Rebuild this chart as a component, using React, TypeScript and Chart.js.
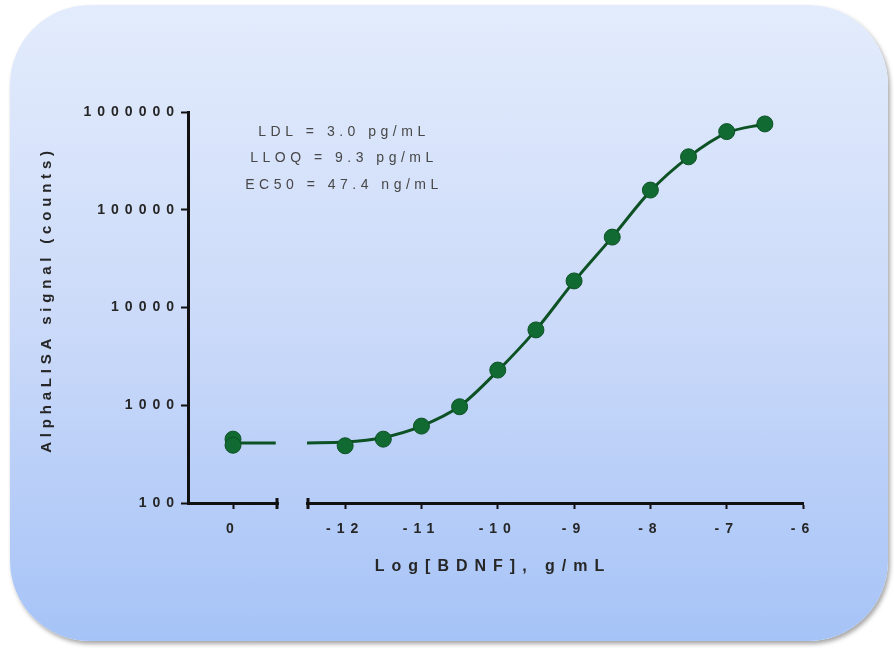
import React, { useEffect, useRef } from 'react';
import { Chart, registerables } from 'chart.js';

Chart.register(...registerables);

// ---- data ----
const zeroDose = [0, 0];
const zeroSignal = [450, 390];
const zeroFitX = [0, 0.95];
const zeroFitY = [410, 410];
const logConc = [-12, -11.5, -11, -10.5, -10, -9.5, -9, -8.5, -8, -7.5, -7, -6.5];
const signal = [385, 450, 612, 965, 2290, 5900, 18700, 52500, 159000, 348000, 630000, 755000];
const fitX = [-12.5, -12, -11.5, -11, -10.5, -10, -9.5, -9, -8.5, -8, -7.5, -7, -6.5];
const fitY = [412, 420, 468, 612, 975, 2250, 5900, 18500, 52500, 155000, 345000, 610000, 755000];
const yTicks = [100, 1000, 10000, 100000, 1000000];
const xTicksZero = [0];
const xTicksMain = [-12, -11, -10, -9, -8, -7, -6];
const annotationLines = ['LDL = 3.0 pg/mL', 'LLOQ = 9.3 pg/mL', 'EC50 = 47.4 ng/mL'];
const xTitle = 'Log[BDNF], g/mL';
const yTitle = 'AlphaLISA signal (counts)';

const FONT = '"Liberation Sans", Arial, sans-serif';
const GREEN_FILL = '#106a32';
const GREEN_LINE = '#0d5224';
const AXIS = '#111111';
const TEXT = '#262626';
const SPACING = '6px';

const toPts = (xs: number[], ys: number[]) => xs.map((x, i) => ({ x, y: ys[i] }));

const decoPlugin = {
  id: 'deco',
  beforeLayout(chart: any) {
    chart.ctx.letterSpacing = SPACING;
  },
  beforeDraw(chart: any) {
    chart.ctx.letterSpacing = SPACING;
  },
  afterDraw(chart: any) {
    const ctx = chart.ctx as CanvasRenderingContext2D;
    const area = chart.chartArea;
    const xa = chart.scales.xa;
    const xb = chart.scales.xb;
    ctx.save();
    // end caps of the broken x axis
    ctx.strokeStyle = AXIS;
    ctx.lineWidth = 3;
    [xa.right - 1, xb.left + 1].forEach((px: number) => {
      ctx.beginPath();
      ctx.moveTo(px, area.bottom - 5);
      ctx.lineTo(px, area.bottom + 6);
      ctx.stroke();
    });
    // annotation
    (ctx as any).letterSpacing = '4.5px';
    ctx.font = `14px ${FONT}`;
    ctx.fillStyle = '#474747';
    ctx.textAlign = 'center';
    ctx.textBaseline = 'middle';
    annotationLines.forEach((t, i) => {
      ctx.fillText(t, area.left + 156, area.top + 20 + i * 26.5);
    });
    // x title
    (ctx as any).letterSpacing = '7px';
    ctx.font = `bold 16px ${FONT}`;
    ctx.fillStyle = TEXT;
    ctx.fillText(xTitle, area.left + 305, area.bottom + 64);
    // y title
    (ctx as any).letterSpacing = '4.8px';
    ctx.font = `bold 15px ${FONT}`;
    ctx.translate(47, (area.top + area.bottom) / 2 - 8);
    ctx.rotate(-Math.PI / 2);
    ctx.fillText(yTitle, 0, 0);
    ctx.restore();
  },
};

const xBase = (min: number, max: number, ticks: number[], weight: number) => ({
  type: 'linear',
  axis: 'x',
  position: 'bottom',
  stack: 'bottomStack',
  stackWeight: weight,
  min,
  max,
  afterBuildTicks: (s: any) => {
    s.ticks = ticks.map((v) => ({ value: v }));
  },
  afterFit: (s: any) => {
    s.height = 60;
  },
  border: { display: true, color: AXIS, width: 3 },
  grid: {
    display: true,
    drawOnChartArea: false,
    drawTicks: true,
    tickLength: 6,
    tickWidth: 2,
    tickColor: AXIS,
  },
  ticks: {
    padding: 12,
    color: TEXT,
    font: { family: FONT, size: 14, weight: 'bold' },
    maxRotation: 0,
    autoSkip: false,
    callback: (v: any) => String(v),
  },
});

export default function App() {
  const ref = useRef<HTMLCanvasElement>(null);

  useEffect(() => {
    if (!ref.current) return;
    const chart = new Chart(ref.current, {
      type: 'scatter',
      data: {
        datasets: [
          {
            data: toPts(zeroDose, zeroSignal),
            xAxisID: 'xa',
            yAxisID: 'y',
            showLine: false,
            pointRadius: 8,
            pointBackgroundColor: GREEN_FILL,
            pointBorderColor: GREEN_LINE,
            pointBorderWidth: 1,
            order: 0,
          },
          {
            data: toPts(logConc, signal),
            xAxisID: 'xb',
            yAxisID: 'y',
            showLine: false,
            pointRadius: 8,
            pointBackgroundColor: GREEN_FILL,
            pointBorderColor: GREEN_LINE,
            pointBorderWidth: 1,
            order: 0,
          },
          {
            data: toPts(zeroFitX, zeroFitY),
            xAxisID: 'xa',
            yAxisID: 'y',
            showLine: true,
            pointRadius: 0,
            borderColor: GREEN_LINE,
            borderWidth: 3,
            order: 1,
          },
          {
            data: toPts(fitX, fitY),
            xAxisID: 'xb',
            yAxisID: 'y',
            showLine: true,
            pointRadius: 0,
            borderColor: GREEN_LINE,
            borderWidth: 3,
            cubicInterpolationMode: 'monotone',
            order: 1,
          },
        ],
      },
      options: {
        animation: false,
        responsive: false,
        events: [],
        layout: { padding: { left: 30, top: 112, right: 91, bottom: 88 } },
        plugins: { legend: { display: false }, tooltip: { enabled: false } },
        scales: {
          xa: xBase(-1, 1, xTicksZero, 90),
          xg: {
            type: 'linear',
            axis: 'x',
            position: 'bottom',
            stack: 'bottomStack',
            stackWeight: 29,
            min: 0,
            max: 1,
            afterFit: (s: any) => {
              s.height = 60;
            },
            border: { display: false },
            grid: { display: false },
            ticks: { display: false },
          },
          xb: xBase(-12.5, -6, xTicksMain, 496),
          y: {
            type: 'logarithmic',
            position: 'left',
            min: 100,
            max: 1000000,
            afterBuildTicks: (s: any) => {
              s.ticks = yTicks.map((v) => ({ value: v, major: true }));
            },
            afterFit: (s: any) => {
              s.width = 158;
            },
            border: { display: true, color: AXIS, width: 3 },
            grid: {
              display: true,
              drawOnChartArea: false,
              drawTicks: true,
              tickLength: 7,
              tickWidth: 2,
              tickColor: AXIS,
            },
            ticks: {
              padding: 1,
              color: TEXT,
              font: { family: FONT, size: 14, weight: 'bold' },
              autoSkip: false,
              callback: (v: any) => String(v),
            },
          },
        },
      } as any,
      plugins: [decoPlugin as any],
    } as any);
    return () => chart.destroy();
  }, []);

  return (
    <div style={{ position: 'absolute', left: 0, top: 0, width: 894, height: 651, background: '#ffffff' }}>
      <div
        style={{
          position: 'absolute',
          left: 10,
          top: 5,
          width: 878,
          height: 636,
          borderRadius: 80,
          background: 'linear-gradient(to bottom, #e3ecfc 0%, #cbdaf9 50%, #a6c3f7 100%)',
          boxShadow: '2px 3px 4px rgba(60,60,60,0.45)',
        }}
      />
      <canvas
        ref={ref}
        width={894}
        height={651}
        style={{ position: 'absolute', left: 0, top: 0, width: 894, height: 651 }}
      />
    </div>
  );
}
